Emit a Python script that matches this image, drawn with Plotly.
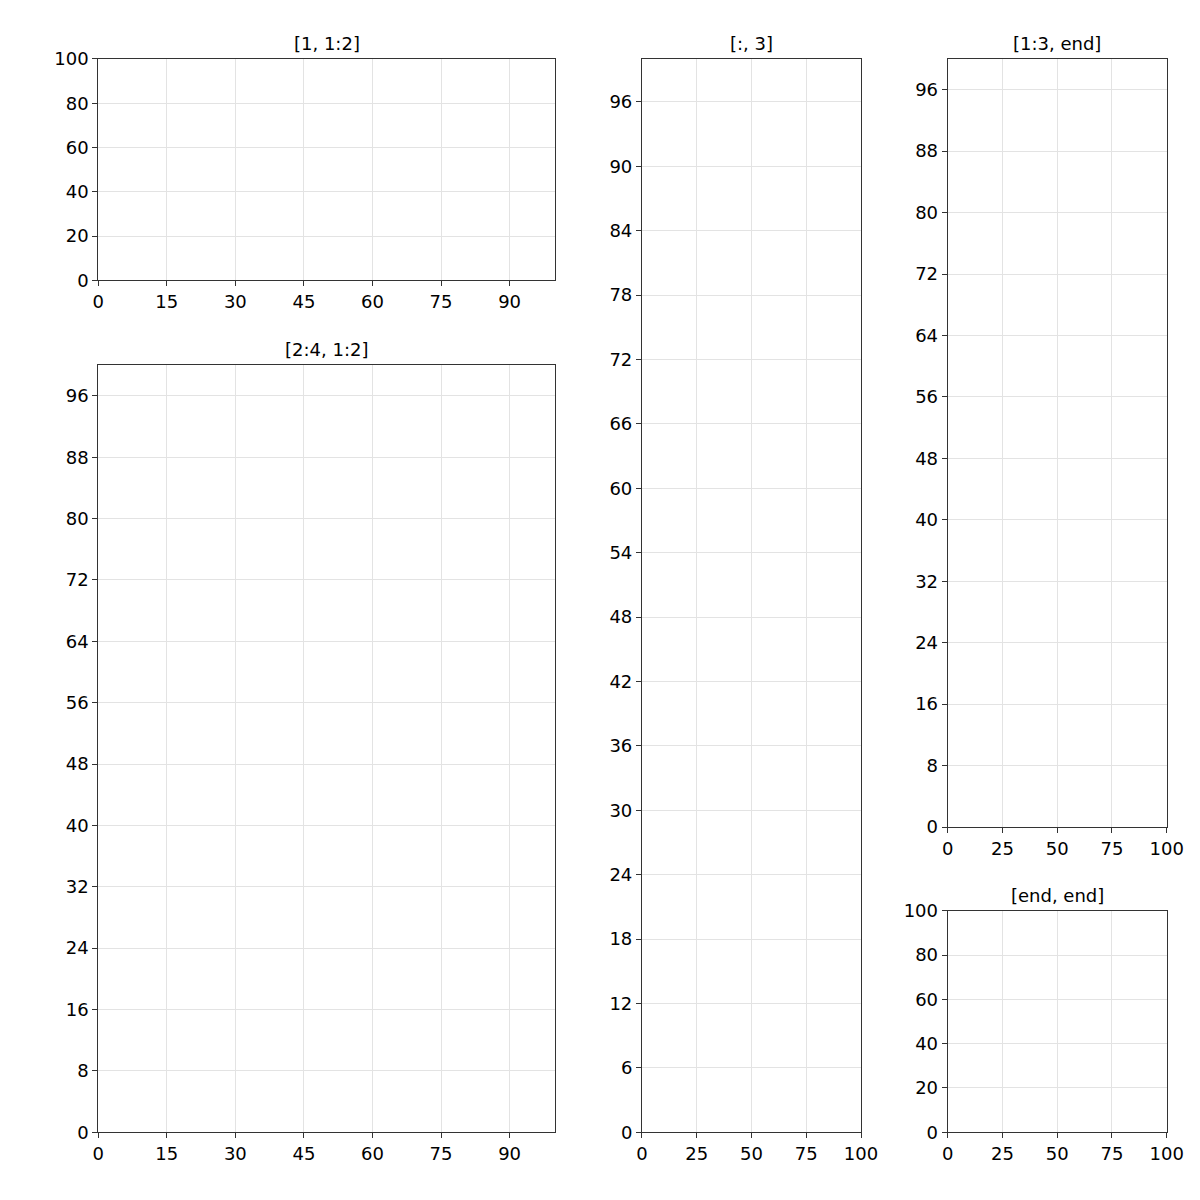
import plotly.graph_objects as go

titles = ["[1, 1:2]", "[2:4, 1:2]", "[:, 3]", "[1:3, end]", "[end, end]"]
x_dticks = [15, 15, 25, 25, 25]
y_dticks = [20, 8, 6, 8, 20]
# target pixel boxes (left, right, top, bottom)
boxes = [(96, 555, 57, 279), (96, 555, 364, 1133), (642, 862, 57, 1133),
         (949, 1169, 57, 827), (949, 1169, 911, 1133)]

W = H = 1200
S = 0.985
OX, OY = 11.4, 16.9


def fx(p):
    return (p - OX) / S / W


def fy(p):
    return 1 - (p - OY) / S / H


fig = go.Figure()
layout = dict(width=W, height=H, margin=dict(l=0, r=0, t=0, b=0),
              plot_bgcolor="white", paper_bgcolor="white", showlegend=False,
              font=dict(family="DejaVu Sans", size=18, color="black"))
annotations = []
for i, (t, xd, yd, (l, r, tp, b)) in enumerate(zip(titles, x_dticks, y_dticks, boxes)):
    s = "" if i == 0 else str(i + 1)
    ax = dict(range=[0, 100], showline=True, mirror=True, linecolor="#333", linewidth=1,
              ticks="outside", ticklen=5, tickcolor="#333", showgrid=True,
              gridcolor="#e3e3e3", zeroline=False, fixedrange=True)
    layout["xaxis" + s] = dict(ax, domain=[fx(l), fx(r)], anchor="y" + s, dtick=xd, tick0=0)
    layout["yaxis" + s] = dict(ax, domain=[fy(b), fy(tp)], anchor="x" + s, dtick=yd, tick0=0)
    fig.add_trace(go.Scatter(x=[], y=[], xaxis="x" + s, yaxis="y" + s))
    annotations.append(dict(text=t, x=(fx(l) + fx(r)) / 2, y=fy(tp) + 3 / H, xref="paper",
                            yref="paper", xanchor="center", yanchor="bottom",
                            showarrow=False, font=dict(size=18)))
layout["annotations"] = annotations
fig.update_layout(**layout)
fig.write_html("out.html")
